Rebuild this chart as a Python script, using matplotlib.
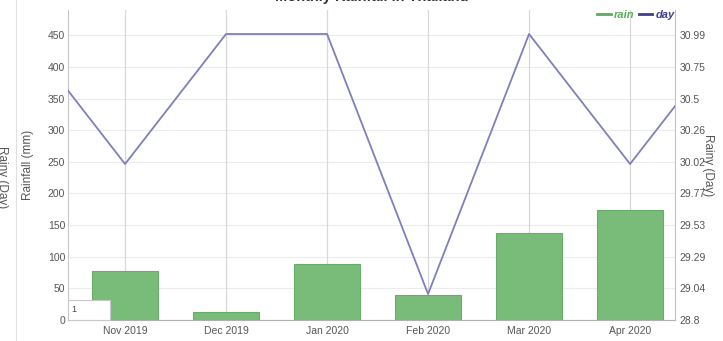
import matplotlib
matplotlib.use("Agg")
import matplotlib.pyplot as plt
from matplotlib.lines import Line2D
from matplotlib.patches import Rectangle
import numpy as np

plt.rcParams['font.family'] = ['Liberation Sans', 'DejaVu Sans']

# Data (Oct 2019 and May 2020 lie just outside the visible window)
months = ["Oct 2019", "Nov 2019", "Dec 2019", "Jan 2020", "Feb 2020", "Mar 2020", "Apr 2020", "May 2020"]
rain = [np.nan, 78, 12, 88, 40, 137, 174, np.nan]
day = [31, 30, 31, 31, 29, 31, 30, 31]
left_ticks = [0, 50, 100, 150, 200, 250, 300, 350, 400, 450]
right_ticks = [28.8, 29.04, 29.29, 29.53, 29.77, 30.02, 30.26, 30.5, 30.75, 30.99]

W, H = 723, 341
fig = plt.figure(figsize=(W / 100, H / 100), dpi=100)
L, R, T, B = 68, 675, 10, 320
ax = fig.add_axes([L / W, 1 - B / H, (R - L) / W, (B - T) / H])

x = np.arange(len(months)) - 1  # Nov 2019 at 0
ax.bar(x, rain, width=0.65, color='#79bc79', edgecolor='#66ad66', linewidth=0.8, zorder=2)

ymax = 490
ax.set_ylim(0, ymax)
ax.set_xlim(-0.565, 5.445)
ax.set_yticks(left_ticks)
ax.set_xticks(x[1:7])
ax.set_xticklabels(months[1:7])
ax.tick_params(axis='both', length=0, labelsize=7.5, labelcolor='#555555')
ax.tick_params(axis='x', pad=4)
ax.tick_params(axis='y', pad=2)
ax.set_ylabel("Rainfall (mm)", fontsize=8.5, color='#555555', labelpad=10)

for yv in left_ticks:
    ax.axhline(yv, color='#ececec', lw=0.8, zorder=0)
for xv in x[1:7]:
    ax.axvline(xv, color='#d8d8d8', lw=0.9, zorder=0)

ax.spines['top'].set_visible(False)
ax.spines['left'].set_color('#c8c8c8')
ax.spines['left'].set_linestyle((0, (1, 1)))
ax.spines['right'].set_visible(False)
ax.spines['bottom'].set_color('#b0b0b0')

ax2 = ax.twinx()
step = (right_ticks[-1] - right_ticks[0]) / (len(right_ticks) - 1)
k = step / 50.0
ax2.set_ylim(right_ticks[0], right_ticks[0] + ymax * k)
ax2.set_yticks([right_ticks[0] + i * step for i in range(len(right_ticks))])
ax2.set_yticklabels([f"{v:g}" for v in right_ticks])
ax2.tick_params(axis='y', length=0, labelsize=7.5, labelcolor='#555555', pad=3)
ax2.plot(x, day, color='#7f7fbd', lw=1.3, zorder=3)
for s in ['top', 'left', 'bottom']:
    ax2.spines[s].set_visible(False)
ax2.spines['right'].set_color('#c0c0c0')
ax2.spines['right'].set_linestyle((0, (1, 1)))
ax2.set_ylabel("Rainy (Day)", fontsize=8.5, color='#555555', rotation=270, labelpad=6)

# Title (cut off at top)
fig.text(372 / W, 1 - 1.5 / H, "Monthly Rainfall in Thailand", ha='center', va='baseline',
         fontsize=10.5, fontweight='bold', color='#333333')

# Legend
handles = [Line2D([], [], color='#5aae5a', lw=2.0), Line2D([], [], color='#3f3f8f', lw=2.0)]
leg = fig.legend(handles, ['rain', 'day'], loc='center right',
                 bbox_to_anchor=(R / W, 1 - 15 / H), bbox_transform=fig.transFigure,
                 ncol=2, frameon=False, handlelength=1.2, handletextpad=0.3,
                 columnspacing=0.4, borderpad=0, borderaxespad=0,
                 prop={'size': 8, 'weight': 'bold', 'style': 'italic'},
                 labelcolor=['#5aae5a', '#3f3f8f'])

# Cut-off label on far left and faint divider line
fig.text(2 / W, 1 - 177 / H, "Rainy (Day)", rotation=270, ha='center', va='center',
         fontsize=8.5, color='#555555')
fig.add_artist(Line2D([16 / W, 16 / W], [0, 1], color='#e0e0e0', lw=0.8, transform=fig.transFigure))

# Small box bottom-left
fig.add_artist(Rectangle((68 / W, 1 - 320 / H), 42 / W, 20 / H, transform=fig.transFigure,
                         facecolor='white', edgecolor='#c8c8c8', lw=0.8, zorder=5))
fig.text(71 / W, 1 - 310 / H, "1", ha='left', va='center', fontsize=6.5, color='#444444', zorder=6)

fig.savefig("out.png", dpi=100)
